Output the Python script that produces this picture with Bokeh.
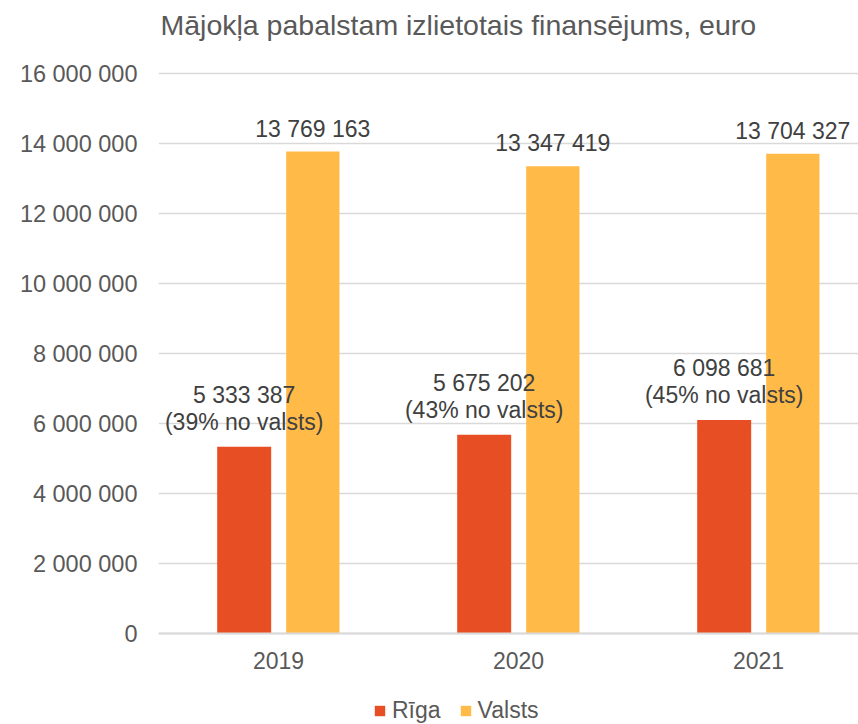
from bokeh.plotting import figure
from bokeh.models import Label, Legend, LegendItem, FixedTicker, ColumnDataSource
from bokeh.core.properties import value
from bokeh.embed import file_html
from bokeh.resources import INLINE

years = ["2019", "2020", "2021"]
riga = [5333387, 5675202, 6098681]
valsts = [13769163, 13347419, 13704327]
riga_share = ["39%", "43%", "45%"]
y_ticks = [0, 2000000, 4000000, 6000000, 8000000, 10000000, 12000000, 14000000, 16000000]
y_tick_labels = ["0", "2 000 000", "4 000 000", "6 000 000", "8 000 000",
                 "10 000 000", "12 000 000", "14 000 000", "16 000 000"]
title_text = "Mājokļa pabalstam izlietotais finansējums, euro"
series_names = ["Rīga", "Valsts"]

RED = "#E84E23"
YEL = "#FFBA47"
FONT = "Liberation Sans"

W, H = 858, 724
FRAME_L = 158
ZERO_Y = 633                      # pixel row of the value 0
PX_PER_UNIT_Y = 35 / 1e6          # 35 px per million
PX_PER_CAT = 240


def fmt(v):
    return f"{v:,}".replace(",", " ")


idx = list(range(len(years)))
src = ColumnDataSource(dict(
    x_r=[i - 0.143 for i in idx],
    x_v=[i + 0.143 for i in idx],
    riga=riga,
    valsts=valsts,
    riga_l1=[fmt(v) for v in riga],
    riga_l2=[f"({s} no valsts)" for s in riga_share],
    valsts_l=[fmt(v) for v in valsts],
))

# the frame covers the full canvas height; the x axis is pinned at 0
y_top = ZERO_Y / PX_PER_UNIT_Y
y_bottom = -(H - ZERO_Y) / PX_PER_UNIT_Y
x_right = -0.5 + (W - FRAME_L) / PX_PER_CAT

p = figure(width=W, height=H, output_backend="svg", toolbar_location=None,
           x_range=(-0.5, x_right), y_range=(y_bottom, y_top),
           min_border_left=FRAME_L, min_border_right=0, min_border_top=0,
           min_border_bottom=0)
p.outline_line_color = None
p.background_fill_color = "white"
p.border_fill_color = "white"

r1 = p.vbar(x="x_r", top="riga", width=0.225, source=src, fill_color=RED, line_color=None)
r2 = p.vbar(x="x_v", top="valsts", width=0.222, source=src, fill_color=YEL, line_color=None)

common = dict(text_font=value(FONT), text_font_size="23px", text_color="#404040",
              text_align="center", text_baseline="middle")
p.text(x="x_v", y="valsts", text="valsts_l", y_offset=-23, source=src, **common)
p.text(x="x_r", y="riga", text="riga_l1", y_offset=-52, source=src, **common)
p.text(x="x_r", y="riga", text="riga_l2", y_offset=-25, source=src, **common)

# axes
p.yaxis.ticker = FixedTicker(ticks=y_ticks)
p.yaxis.major_label_overrides = {t: l for t, l in zip(y_ticks, y_tick_labels)}
p.yaxis.axis_line_color = None
p.yaxis.major_tick_line_color = None
p.yaxis.minor_tick_line_color = None
p.yaxis.major_label_standoff = 15
p.yaxis.major_label_text_font = FONT
p.yaxis.major_label_text_font_size = "23.5px"
p.yaxis.major_label_text_color = "#595959"

p.xaxis.fixed_location = 0
p.xaxis.ticker = FixedTicker(ticks=idx)
p.xaxis.major_label_overrides = {i: y for i, y in zip(idx, years)}
p.xaxis.axis_line_color = "#D9D9D9"
p.xaxis.axis_line_width = 2
p.xaxis.major_tick_line_color = None
p.xaxis.minor_tick_line_color = None
p.xaxis.major_label_standoff = 12
p.xaxis.major_label_text_font = FONT
p.xaxis.major_label_text_font_size = "23px"
p.xaxis.major_label_text_color = "#595959"

p.xgrid.grid_line_color = None
p.ygrid.grid_line_color = "#D9D9D9"
p.ygrid.grid_line_width = 1.5

# title, inside the frame above the 16 000 000 gridline
title_x = -0.5 + (160 - FRAME_L) / PX_PER_CAT
title_y = (ZERO_Y - 24) / PX_PER_UNIT_Y
p.add_layout(Label(x=title_x, y=title_y, text=title_text,
                   text_font=FONT, text_font_size="28.5px", text_color="#595959",
                   text_align="left", text_baseline="middle"))

legend = Legend(items=[LegendItem(label=series_names[0], renderers=[r1]),
                       LegendItem(label=series_names[1], renderers=[r2])],
                orientation="horizontal", location=(215, 0),
                glyph_width=13, glyph_height=13, label_standoff=6, spacing=18,
                padding=0, margin=0, border_line_color=None,
                background_fill_alpha=0,
                label_text_font=FONT, label_text_font_size="23px",
                label_text_color="#595959")
p.add_layout(legend, "center")

open("out.html", "w").write(file_html(p, INLINE))
